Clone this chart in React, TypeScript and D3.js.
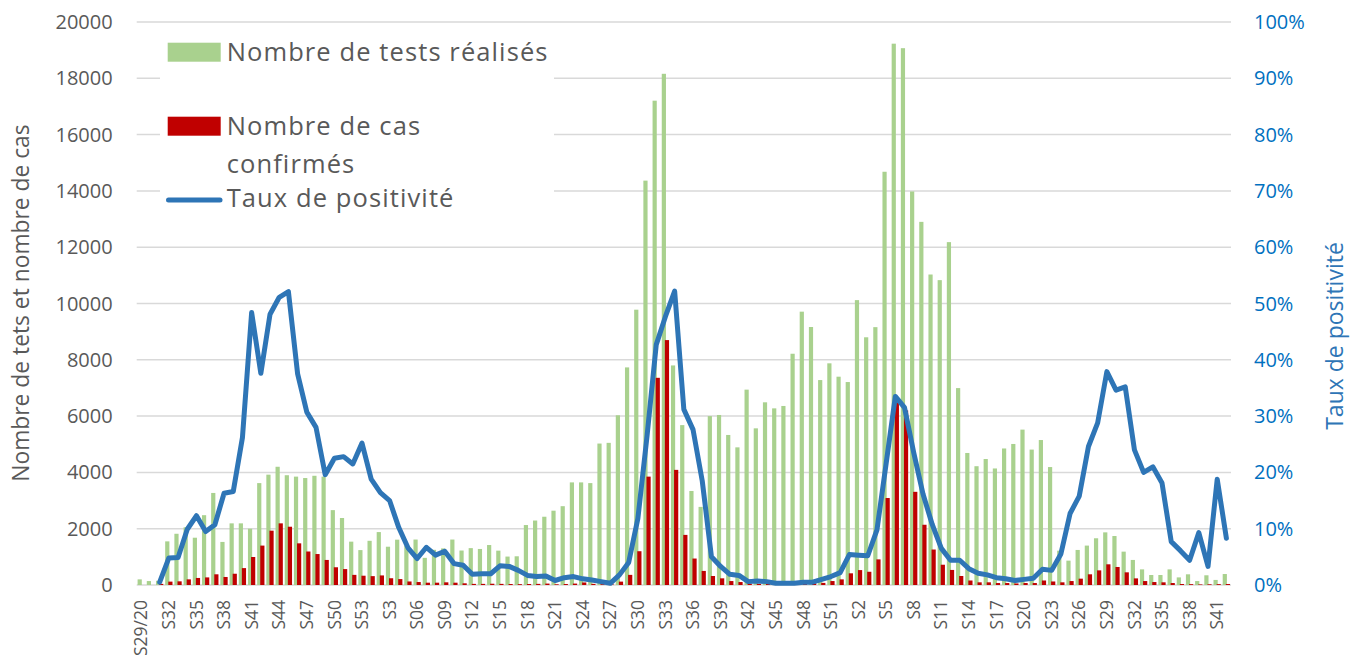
import React from "react";
import * as d3 from "d3";

// weekly categories, S29/2020 -> S42/2022
const weeks2020 = ["S29/20", "S30", "S31", "S32", "S33", "S34", "S35", "S36", "S37", "S38", "S39", "S40", "S41", "S42", "S43", "S44", "S45", "S46", "S47", "S48", "S49", "S50", "S51", "S52", "S53"];
const weeks2021 = ["S1", "S2", "S3", "S04", "S05", "S06", "S07", "S08", "S09", "S10", "S11", "S12", "S13", "S14", "S15", "S16", "S17", "S18", "S19", "S20", "S21", "S22", "S23", "S24", "S25", "S26", "S27", "S28", "S29", "S30", "S31", "S32", "S33", "S34", "S35", "S36", "S37", "S38", "S39", "S40", "S41", "S42", "S43", "S44", "S45", "S46", "S47", "S48", "S49", "S50", "S51", "S52"];
const weeks2022 = ["S1", "S2", "S3", "S4", "S5", "S6", "S7", "S8", "S9", "S10", "S11", "S12", "S13", "S14", "S15", "S16", "S17", "S18", "S19", "S20", "S21", "S22", "S23", "S24", "S25", "S26", "S27", "S28", "S29", "S30", "S31", "S32", "S33", "S34", "S35", "S36", "S37", "S38", "S39", "S40", "S41", "S42"];
const categories = [...weeks2020, ...weeks2021, ...weeks2022];

// Nombre de tests réalisés
const tests = [
  200, 140, 150, 1550, 1820, 2050, 1680, 2480, 3270, 1530,
  2190, 2190, 2000, 3620, 3920, 4200, 3900, 3850, 3800, 3880,
  3850, 2660, 2380, 1540, 1240, 1570, 1880, 1360, 1610, 1400,
  1615, 965, 1250, 1300, 1615, 1225, 1310, 1280, 1420, 1220,
  1010, 1020, 2130, 2290, 2425, 2640, 2800, 3645, 3645, 3620,
  5025, 5050, 6030, 7730, 9780, 14365, 17205, 18160, 7800, 5680,
  3340, 2775, 6000, 6040, 5330, 4890, 6940, 5565, 6490, 6275,
  6360, 8215, 9710, 9165, 7280, 7875, 7400, 7210, 10120, 8800,
  9160, 14680, 19230, 19070, 13980, 12900, 11030, 10830, 12180, 6995,
  4690, 4220, 4475, 4140, 4850, 5010, 5520, 4810, 5150, 4190,
  1220, 865, 1245, 1400, 1660, 1870, 1740, 1185, 890, 555,
  355, 355, 555, 270, 380, 140, 345, 180, 390,
];

// Nombre de cas confirmés
const cases = [
  0, 0, 40, 120, 130, 200, 250, 270, 380, 285,
  400, 600, 995, 1400, 1930, 2190, 2070, 1480, 1190, 1100,
  890, 630, 565, 360, 330, 315, 340, 240, 210, 125,
  105, 82, 82, 95, 82, 60, 40, 40, 45, 40,
  35, 30, 35, 40, 50, 25, 35, 50, 90, 40,
  30, 20, 120, 360, 1200, 3850, 7360, 8700, 4090, 1780,
  940, 500, 320, 237, 140, 105, 45, 40, 40, 25,
  20, 25, 45, 60, 75, 140, 200, 415, 530, 470,
  910, 3090, 6590, 6200, 3310, 2140, 1260, 720, 535, 320,
  160, 95, 95, 70, 70, 55, 70, 70, 160, 125,
  95, 140, 225, 380, 520, 735, 640, 450, 235, 140,
  105, 95, 70, 35, 30, 20, 25, 30, 35,
];

// Taux de positivité (%)
const positivity: (number | null)[] = [
  null, null, 0.5, 4.8, 4.9, 9.9, 12.3, 9.5, 10.7, 16.3,
  16.6, 26.2, 48.4, 37.6, 48.1, 51.1, 52.1, 37.5, 30.7, 28.0,
  19.6, 22.5, 22.8, 21.5, 25.2, 18.8, 16.4, 15.0, 10.2, 6.6,
  4.7, 6.7, 5.3, 6.0, 3.8, 3.5, 1.9, 2.0, 2.0, 3.4,
  3.3, 2.6, 1.7, 1.5, 1.6, 0.8, 1.3, 1.5, 1.1, 0.9,
  0.6, 0.3, 1.8, 4.0, 11.8, 26.5, 42.7, 47.7, 52.2, 31.2,
  27.6, 18.5, 5.0, 3.3, 1.9, 1.7, 0.6, 0.7, 0.6, 0.3,
  0.3, 0.3, 0.5, 0.5, 1.0, 1.5, 2.2, 5.4, 5.3, 5.2,
  9.8, 21.6, 33.5, 31.5, 23.5, 16.2, 10.8, 6.5, 4.4, 4.4,
  2.9, 2.1, 1.8, 1.3, 1.1, 0.8, 1.0, 1.2, 2.8, 2.6,
  5.5, 12.7, 15.8, 24.6, 28.8, 37.9, 34.6, 35.2, 24.0, 20.0,
  21.0, 18.1, 7.7, 6.1, 4.4, 9.3, 3.3, 18.8, 8.3,
];

const leftTicks = [0, 2000, 4000, 6000, 8000, 10000, 12000, 14000, 16000, 18000, 20000];
const rightTicks = [0, 10, 20, 30, 40, 50, 60, 70, 80, 90, 100];

const W = 1358;
const H = 657;
const plot = { left: 136.7, right: 1231, top: 22, bottom: 585 };
const font = "'Open Sans', sans-serif";
const grey = "#595959";

const App: React.FC = () => {
  const x = d3
    .scaleBand<number>()
    .domain(d3.range(categories.length))
    .range([plot.left, plot.right]);
  const y = d3.scaleLinear().domain([0, 20000]).range([plot.bottom, plot.top]);
  const yr = d3.scaleLinear().domain([0, 100]).range([plot.bottom, plot.top]);
  const bw = x.bandwidth();
  const cx = (i: number) => (x(i) as number) + bw / 2;

  const line = d3
    .line<number | null>()
    .defined((d) => d !== null)
    .x((_, i) => cx(i))
    .y((d) => yr(d as number));

  const legendText = { fontSize: 25.5, letterSpacing: 1.1, fill: grey };

  return (
    <svg width={W} height={H} style={{ position: "absolute", left: 0, top: 0, background: "#fff" }} fontFamily={font}>
      {leftTicks.map((t) => (
        <line key={"g" + t} x1={plot.left} x2={plot.right} y1={y(t)} y2={y(t)} stroke="#D9D9D9" strokeWidth={1.5} />
      ))}

      {tests.map((v, i) => (
        <rect key={"t" + i} x={cx(i) - 3.7} width={4.2} y={y(v)} height={y(0) - y(v)} fill="#A9D18E" />
      ))}
      {cases.map((v, i) => (
        <rect key={"c" + i} x={cx(i) - 0.6} width={4.2} y={y(v)} height={y(0) - y(v)} fill="#C00000" />
      ))}

      <path d={line(positivity) || ""} fill="none" stroke="#2E75B6" strokeWidth={5} strokeLinejoin="round" strokeLinecap="round" />

      {leftTicks.map((t) => (
        <text key={"l" + t} x={112.7} y={y(t)} dy="0.35em" textAnchor="end" fontSize={20} fill={grey}>
          {t}
        </text>
      ))}
      {rightTicks.map((t) => (
        <text key={"r" + t} x={1254} y={yr(t)} dy="0.35em" textAnchor="start" fontSize={20} fill="#0070C0">
          {t + "%"}
        </text>
      ))}

      {categories.map((c, i) =>
        i % 3 === 0 ? (
          <text key={"x" + i} transform={`translate(${cx(i)},600) rotate(-90)`} dy="0.35em" textAnchor="end" fontSize={17.5} fill={grey}>
            {c}
          </text>
        ) : null
      )}

      <text transform="translate(20.7,303) rotate(-90)" dy="0.35em" textAnchor="middle" fontSize={22.8} fill={grey}>
        Nombre de tets et nombre de cas
      </text>
      <text transform="translate(1335,336) rotate(-90)" dy="0.35em" textAnchor="middle" fontSize={23} fill="#2E75B6">
        Taux de positivité
      </text>

      <g>
        <rect x={160} y={28} width={394} height={186} fill="#fff" />
        <rect x={167.7} y={42.7} width={53} height={19} fill="#A9D18E" />
        <text x={226.7} y={52} dy="0.35em" {...legendText}>Nombre de tests réalisés</text>
        <rect x={167.7} y={116.7} width={53} height={19} fill="#C00000" />
        <text x={226.7} y={126} dy="0.35em" {...legendText}>Nombre de cas</text>
        <text x={226.7} y={164} dy="0.35em" {...legendText}>confirmés</text>
        <line x1={168.5} x2={220} y1={200} y2={200} stroke="#2E75B6" strokeWidth={5} strokeLinecap="round" />
        <text x={226.7} y={198} dy="0.35em" {...legendText}>Taux de positivité</text>
      </g>
    </svg>
  );
};

export default App;
